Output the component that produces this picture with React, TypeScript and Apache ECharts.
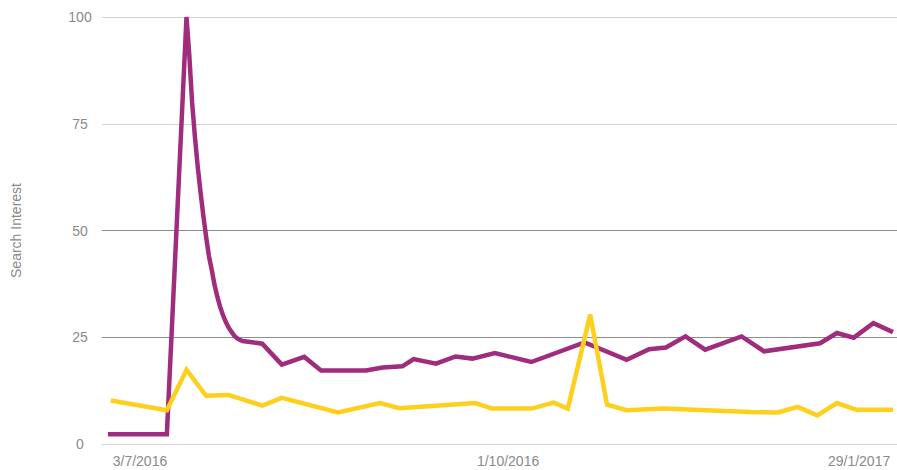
import React, { useEffect, useRef } from "react";
import * as echarts from "echarts";

// Day offsets (from first week) and search-interest values
const purpleDays = [0, 21, 28, 29, 30, 31, 32, 33, 34, 35, 36, 37, 38, 39, 40, 41, 42, 43, 44, 45, 46, 47, 48, 55, 62, 70, 76, 92, 98, 105, 109, 117, 124, 130, 138, 151, 170, 185, 193, 199, 206, 213, 226, 234, 254, 260, 266, 273, 280];
const purpleValues = [2.3, 2.3, 100, 91, 80, 72, 65, 59, 53.5, 48.5, 44, 40.8, 37.2, 34.5, 32.1, 30.2, 28.6, 27.3, 26.3, 25.4, 24.8, 24.4, 24.1, 23.5, 18.6, 20.4, 17.2, 17.2, 17.9, 18.2, 19.9, 18.8, 20.5, 20, 21.3, 19.2, 23.8, 19.7, 22.2, 22.6, 25.2, 22.1, 25.2, 21.7, 23.6, 26, 24.9, 28.3, 26.2];

const yellowDays = [1, 21, 28, 35, 43, 55, 62, 82, 97, 104, 131, 137, 151, 159, 164, 172, 178, 185, 198, 229, 239, 246, 253, 260, 267, 280];
const yellowValues = [10.2, 7.9, 17.4, 11.3, 11.5, 9.0, 10.8, 7.4, 9.6, 8.4, 9.6, 8.3, 8.3, 9.7, 8.3, 30.3, 9.2, 7.9, 8.3, 7.5, 7.4, 8.7, 6.7, 9.6, 8.0, 8.0];

// x-axis tick positions (day offsets) and their labels
const tickDays = [11.4, 142.7, 267.9];
const tickLabels = ["3/7/2016", "1/10/2016", "29/1/2017"];

// y-axis ticks
const yTicks = [0, 25, 50, 75, 100];

const FONT = "'Liberation Sans', Arial, Helvetica, sans-serif";

export default function App() {
  const ref = useRef<HTMLDivElement>(null);
  useEffect(() => {
    if (!ref.current) return;
    const chart = echarts.init(ref.current, undefined, { renderer: "svg" });
    const pair = (xs: number[], ys: number[]) => xs.map((x, i) => [x, ys[i]]);
    chart.setOption({
      animation: false,
      backgroundColor: "#ffffff",
      grid: { left: 102, right: 0, top: 17, bottom: 26, containLabel: false },
      xAxis: {
        type: "value",
        min: -2.14,
        max: 281.43,
        splitLine: { show: false },
        axisTick: { show: false },
        axisLine: { show: true, lineStyle: { color: "#d2d2d2", width: 1 } },
        axisLabel: {
          customValues: tickDays,
          formatter: (v: number) => {
            const i = tickDays.findIndex((d) => Math.abs(d - v) < 1e-6);
            return i >= 0 ? tickLabels[i] : "";
          },
          color: "#8a8a8a",
          fontSize: 14,
          fontFamily: FONT,
          margin: 10,
        },
      },
      yAxis: {
        type: "value",
        min: yTicks[0],
        max: yTicks[yTicks.length - 1],
        interval: 25,
        name: "Search Interest",
        nameLocation: "middle",
        nameGap: 79,
        nameTextStyle: { color: "#8a8a8a", fontSize: 14, fontFamily: FONT },
        axisLine: { show: false },
        axisTick: { show: false },
        axisLabel: {
          color: "#8a8a8a",
          fontSize: 14,
          fontFamily: FONT,
          align: "center",
          margin: 22,
        },
        splitLine: {
          show: true,
          lineStyle: {
            color: ["#d2d2d2", "#8c8c8c", "#8c8c8c", "#d2d2d2", "#d2d2d2"],
            width: 1,
          },
        },
      },
      series: [
        {
          name: "Purple",
          type: "line",
          data: pair(purpleDays, purpleValues),
          showSymbol: false,
          symbol: "none",
          lineStyle: { color: "#a02c7d", width: 4.5, join: "miter" },
          itemStyle: { color: "#a02c7d" },
          clip: true,
          z: 2,
        },
        {
          name: "Yellow",
          type: "line",
          data: pair(yellowDays, yellowValues),
          showSymbol: false,
          symbol: "none",
          lineStyle: { color: "#fdd01d", width: 4.5, join: "miter" },
          itemStyle: { color: "#fdd01d" },
          clip: true,
          z: 3,
        },
      ],
    });
    return () => chart.dispose();
  }, []);
  return (
    <div
      ref={ref}
      style={{ position: "absolute", left: 0, top: 0, width: 897, height: 470 }}
    />
  );
}
